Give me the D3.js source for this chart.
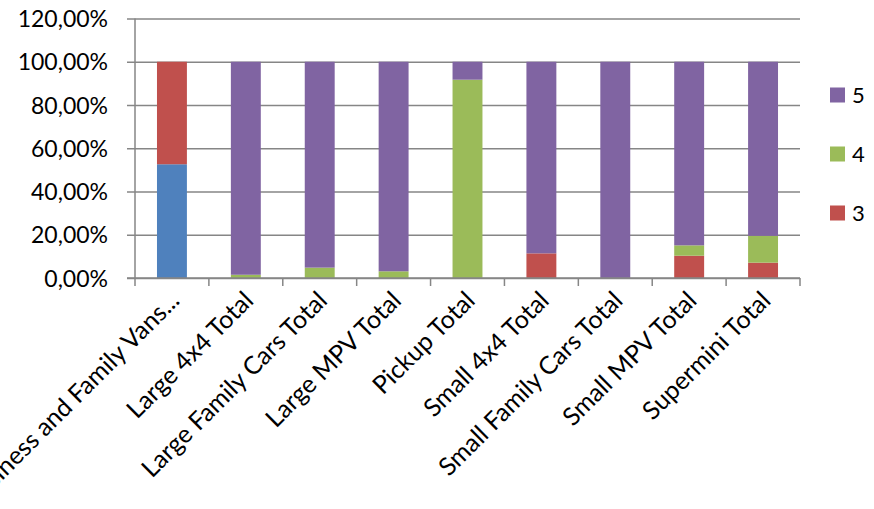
<!DOCTYPE html>
<html>
<head>
<meta charset="utf-8">
<script src="https://cdn.jsdelivr.net/npm/d3@7"></script>
<style>
  html, body { margin: 0; padding: 0; background: #fff; }
  svg { display: block; }
  text { font-family: Lato, "Open Sans", sans-serif; fill: #000; }
</style>
</head>
<body>
<svg id="chart" width="874" height="509"></svg>
<script>
// Categories along the x axis
const categories = [
  "Business and Family Vans...",
  "Large 4x4 Total",
  "Large Family Cars Total",
  "Large MPV Total",
  "Pickup Total",
  "Small 4x4 Total",
  "Small Family Cars Total",
  "Small MPV Total",
  "Supermini Total"
];

// Share of each rating per category (fractions of 1)
const series2 = [0.526, 0, 0, 0, 0, 0, 0, 0, 0];
const series3 = [0.474, 0, 0, 0, 0, 0.114, 0, 0.103, 0.071];
const series4 = [0, 0.015, 0.048, 0.031, 0.917, 0, 0, 0.048, 0.124];
const series5 = [0, 0.985, 0.952, 0.969, 0.083, 0.886, 1.0, 0.849, 0.805];

// Stack order bottom to top, and the entries shown in the legend (top to bottom)
const seriesKeys = ["2", "3", "4", "5"];
const legendKeys = ["5", "4", "3"];
const yTicks = [0, 0.2, 0.4, 0.6, 0.8, 1.0, 1.2];

const colors = { "2": "#4F81BD", "3": "#C0504D", "4": "#9BBB59", "5": "#8064A2" };

const rows = categories.map((c, i) => ({
  category: c, "2": series2[i], "3": series3[i], "4": series4[i], "5": series5[i]
}));

const svg = d3.select("#chart");
const plot = { left: 135, right: 800, top: 18.5, bottom: 278 };

const x = d3.scaleBand().domain(categories).range([plot.left, plot.right]).paddingInner(0.595).paddingOuter(0.2975);
const xOuter = d3.scaleBand().domain(categories).range([plot.left, plot.right]);
const y = d3.scaleLinear().domain([0, 1.2]).range([plot.bottom, plot.top]);

const gridColor = "#868686";

// Horizontal gridlines with small outward ticks
const yAxis = d3.axisLeft(y).tickValues(yTicks).tickSize(-(plot.right - plot.left)).tickPadding(0)
  .tickFormat(d => (d * 100).toFixed(2).replace(".", ",") + "%");
const gy = svg.append("g").attr("transform", `translate(${plot.left},0)`).call(yAxis);
gy.select(".domain").remove();
gy.selectAll(".tick line").attr("stroke", gridColor).attr("stroke-width", 1.5).attr("x1", -8);
gy.selectAll(".tick text").attr("x", -27).attr("dy", "0.35em").style("font-size", "23px")
  .style("font-family", "Lato, 'Open Sans', sans-serif").attr("fill", "#000");

// Stacked bars
const stack = d3.stack().keys(seriesKeys)(rows);
svg.append("g").selectAll("g").data(stack).join("g")
  .attr("fill", d => colors[d.key])
  .selectAll("rect").data(d => d).join("rect")
  .attr("x", d => x(d.data.category))
  .attr("width", x.bandwidth())
  .attr("y", d => y(d[1]))
  .attr("height", d => Math.max(0, y(d[0]) - y(d[1])));

// Vertical axis line
svg.append("line").attr("x1", plot.left).attr("x2", plot.left)
  .attr("y1", plot.top).attr("y2", plot.bottom)
  .attr("stroke", gridColor).attr("stroke-width", 1.5);

// Category axis with ticks at band boundaries
const gx = svg.append("g").attr("transform", `translate(0,${plot.bottom})`);
gx.append("line").attr("x1", plot.left - 8).attr("x2", plot.right)
  .attr("stroke", gridColor).attr("stroke-width", 1.5);
const bounds = categories.map(c => xOuter(c)).concat([plot.right]);
gx.selectAll(".tk").data(bounds).join("line").attr("class", "tk")
  .attr("x1", d => d).attr("x2", d => d).attr("y1", 0).attr("y2", 8)
  .attr("stroke", gridColor).attr("stroke-width", 1.5);

// Rotated category labels
gx.selectAll(".lbl").data(categories).join("text").attr("class", "lbl")
  .attr("text-anchor", "end")
  .attr("transform", c => `translate(${xOuter(c) + xOuter.bandwidth() / 2 + 9},${24}) rotate(-45)`)
  .style("font-size", "25px")
  .text(c => c);

// Legend
const legend = svg.append("g").selectAll("g").data(legendKeys).join("g")
  .attr("transform", (k, i) => `translate(830,${95 + i * 59})`);
legend.append("rect").attr("x", 0).attr("y", -7.5).attr("width", 15).attr("height", 15)
  .attr("fill", k => colors[k]);
legend.append("text").attr("x", 22).attr("dy", "0.35em").style("font-size", "22px").text(k => k);
</script>
</body>
</html>
